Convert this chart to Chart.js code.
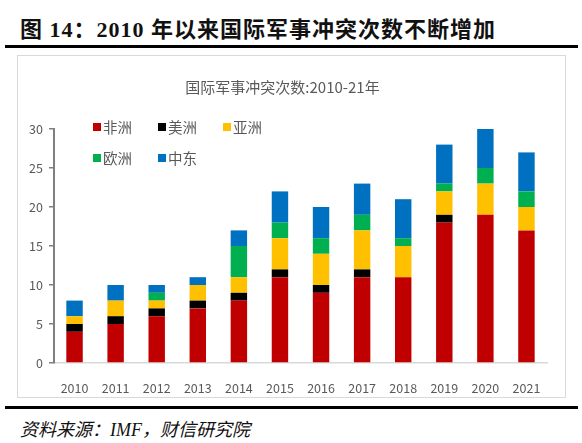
<!DOCTYPE html>
<html>
<head>
<meta charset="utf-8">
<script src="https://cdn.jsdelivr.net/npm/chart.js@4/dist/chart.umd.min.js"></script>
<style>
  body { margin: 0; background: #fff; width: 582px; height: 443px; position: relative; overflow: hidden; }
  .head { position: absolute; left: 20px; top: 11px; font: bold 22px "Liberation Serif", "Noto Sans CJK SC", serif; color: #111; letter-spacing: 1px; }
  .rule { position: absolute; left: 5px; width: 573px; height: 3px; background: #000; }
  .frame { position: absolute; left: 17px; top: 55px; width: 547px; height: 341px; border: 1px solid #d9d9d9; }
  .frame canvas { position: absolute; left: 0; top: 0; }
  .src { position: absolute; left: 20px; top: 415px; font: italic 18px "Liberation Serif", "Noto Sans CJK SC", serif; color: #111; }
</style>
</head>
<body>
<div class="head">图 14：2010 年以来国际军事冲突次数不断增加</div>
<div class="rule" style="top:45px"></div>
<div class="frame"><canvas id="chart" width="547" height="341"></canvas></div>
<div class="rule" style="top:406px"></div>
<div class="src">资料来源：IMF，财信研究院</div>
<script>
const years = ["2010", "2011", "2012", "2013", "2014", "2015", "2016", "2017", "2018", "2019", "2020", "2021"];
const africa = [4, 5, 6, 7, 8, 11, 9, 11, 11, 18, 19, 17];
const america = [1, 1, 1, 1, 1, 1, 1, 1, 0, 1, 0, 0];
const asia = [1, 2, 1, 2, 2, 4, 4, 5, 4, 3, 4, 3];
const europe = [0, 0, 1, 0, 4, 2, 2, 2, 1, 1, 2, 2];
const middleEast = [2, 2, 1, 1, 2, 4, 4, 4, 5, 5, 5, 5];
const yTicks = [0, 5, 10, 15, 20, 25, 30];

const grey = "#595959";
const font = "'Noto Sans CJK SC', sans-serif";

// legend sits inside the plot area, top-left, 3 items per row
const insideLegend = {
  id: "insideLegend",
  afterDraw(chart) {
    const { ctx, chartArea } = chart;
    ctx.save();
    ctx.font = "14.5px " + font;
    ctx.textBaseline = "middle";
    chart.data.datasets.forEach((ds, i) => {
      const x = chartArea.left + 39 + (i % 3) * 65;
      const y = chartArea.top - 2 + Math.floor(i / 3) * 31;
      ctx.fillStyle = ds.backgroundColor;
      ctx.fillRect(x, y - 4, 8, 8);
      ctx.fillStyle = grey;
      ctx.fillText(ds.label, x + 10, y);
    });
    ctx.restore();
  },
};

new Chart(document.getElementById("chart"), {
  type: "bar",
  data: {
    labels: years,
    datasets: [
      { label: "非洲", data: africa, backgroundColor: "#C00000" },
      { label: "美洲", data: america, backgroundColor: "#000000" },
      { label: "亚洲", data: asia, backgroundColor: "#FFC000" },
      { label: "欧洲", data: europe, backgroundColor: "#00B050" },
      { label: "中东", data: middleEast, backgroundColor: "#0070C0" },
    ],
  },
  options: {
    responsive: false,
    animation: false,
    layout: { padding: { left: 0, right: 18, top: 0, bottom: 0 } },
    datasets: { bar: { barPercentage: 0.4, categoryPercentage: 1 } },
    plugins: {
      legend: { display: false },
      tooltip: { enabled: false },
      title: {
        display: true,
        text: "国际军事冲突次数:2010-21年",
        color: grey,
        font: { family: font, size: 15, weight: "normal" },
        padding: { top: 22, bottom: 33 },
      },
    },
    scales: {
      x: {
        stacked: true,
        grid: { display: false },
        border: { color: "#d9d9d9", width: 1.5 },
        ticks: { color: grey, font: { family: font, size: 12.5 }, padding: 10 },
        afterFit(scale) { scale.height = 34; },
      },
      y: {
        stacked: true,
        min: 0,
        max: 30,
        afterBuildTicks(scale) { scale.ticks = yTicks.map((v) => ({ value: v })); },
        grid: { drawOnChartArea: false, drawTicks: true, tickLength: 5, color: "#7f7f7f", lineWidth: 1.5 },
        border: { color: "#7f7f7f", width: 2 },
        ticks: { color: grey, font: { family: font, size: 12.5 }, padding: 6 },
        afterFit(scale) { scale.width = 36; },
      },
    },
  },
  plugins: [insideLegend],
});
</script>
</body>
</html>
